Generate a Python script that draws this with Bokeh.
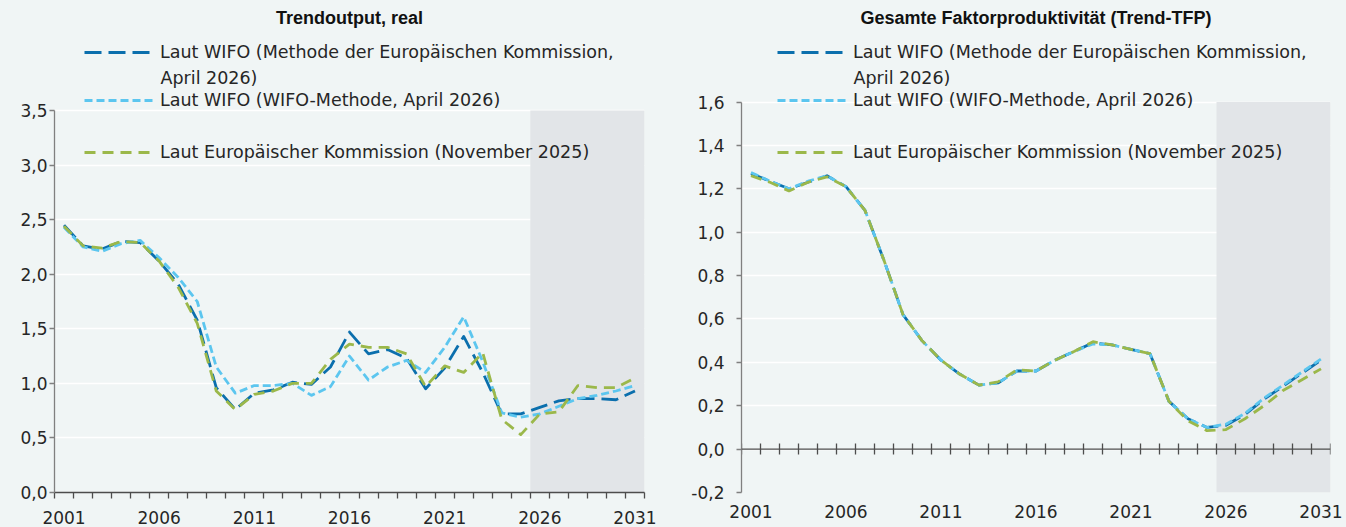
from bokeh.plotting import figure
from bokeh.layouts import row
from bokeh.models import (Range1d, FixedTicker, CustomJSTickFormatter, Legend,
                          LegendItem, Label, Span)
from bokeh.embed import file_html
from bokeh.resources import INLINE

# ---------------- data ----------------
YEARS = list(range(2001, 2032))
FORECAST_START = 2026
X_LABEL_YEARS = [2001, 2006, 2011, 2016, 2021, 2026, 2031]

TITLE_LEFT = "Trendoutput, real"
TITLE_RIGHT = "Gesamte Faktorproduktivität (Trend-TFP)"

LABEL_EK_METHOD = "Laut WIFO (Methode der Europäischen Kommission,"
LABEL_EK_METHOD_2 = "April 2026)"
LABEL_WIFO_METHOD = "Laut WIFO (WIFO-Methode, April 2026)"
LABEL_EK = "Laut Europäischer Kommission (November 2025)"

# Trendoutput, real (Veränderung in %)
OUT_WIFO_EK = [2.45, 2.26, 2.23, 2.30, 2.29, 2.12, 1.91, 1.58, 0.96, 0.76,
               0.91, 0.94, 1.01, 0.99, 1.15, 1.47, 1.27, 1.31, 1.23, 0.95,
               1.14, 1.43, 1.10, 0.72, 0.72, 0.78, 0.84, 0.86, 0.86, 0.85, 0.93]
OUT_WIFO_WIFO = [2.43, 2.25, 2.21, 2.28, 2.31, 2.15, 1.97, 1.75, 1.15, 0.91,
                 0.98, 0.98, 1.00, 0.89, 0.97, 1.25, 1.03, 1.15, 1.21, 1.10,
                 1.33, 1.61, 1.20, 0.73, 0.69, 0.72, 0.79, 0.86, 0.89, 0.93, 0.98]
OUT_EK = [2.44, 2.26, 2.24, 2.30, 2.29, 2.12, 1.88, 1.55, 0.93, 0.76,
          0.90, 0.93, 1.00, 1.00, 1.22, 1.36, 1.33, 1.33, 1.27, 0.97,
          1.16, 1.10, 1.28, 0.67, 0.53, 0.72, 0.74, 0.98, 0.96, 0.96, 1.05]

# Gesamte Faktorproduktivität (Trend-TFP)
TFP_WIFO_EK = [1.27, 1.235, 1.20, 1.23, 1.26, 1.21, 1.10, 0.87, 0.62, 0.50,
               0.41, 0.345, 0.295, 0.305, 0.36, 0.36, 0.41, 0.45, 0.49, 0.48,
               0.46, 0.44, 0.22, 0.14, 0.10, 0.11, 0.16, 0.23, 0.29, 0.35, 0.41]
TFP_WIFO_WIFO = [1.275, 1.235, 1.20, 1.235, 1.26, 1.21, 1.10, 0.87, 0.62, 0.50,
                 0.41, 0.345, 0.295, 0.305, 0.36, 0.36, 0.41, 0.45, 0.485, 0.48,
                 0.46, 0.44, 0.22, 0.14, 0.10, 0.115, 0.165, 0.235, 0.295, 0.355, 0.415]
TFP_EK = [1.26, 1.23, 1.19, 1.23, 1.255, 1.21, 1.10, 0.87, 0.62, 0.50,
          0.41, 0.345, 0.295, 0.31, 0.365, 0.36, 0.41, 0.45, 0.495, 0.48,
          0.46, 0.44, 0.22, 0.13, 0.085, 0.09, 0.14, 0.20, 0.27, 0.32, 0.37]

Y_TICKS_LEFT = [0.0, 0.5, 1.0, 1.5, 2.0, 2.5, 3.0, 3.5]
Y_TICKS_RIGHT = [-0.2, 0.0, 0.2, 0.4, 0.6, 0.8, 1.0, 1.2, 1.4, 1.6]

# ---------------- style ----------------
BG = "#f0f5f5"
SHADE = "#e2e5e8"
DARK_BLUE = "#0b6fad"
LIGHT_BLUE = "#5cc6ef"
GREEN = "#9bb84a"
Y_AXIS_COL = "#808080"
X_AXIS_COL = "#4d4d4d"
TEXT_COL = "#262626"
FONT = "DejaVu Sans"
TITLE_FONT = "Liberation Sans"

FIG_H = 527
BOTTOM = 35           # px below the frame
FRAME_H = FIG_H - BOTTOM


def make_chart(width, left, right, y_min, y_max, top_px, y_ticks, title,
               series, zero_line, y_standoff, legend_x):
    frame_w = width - left - right
    ppu = (FRAME_H - top_px) / (y_max - y_min)
    y_end = y_min + FRAME_H / ppu
    x0 = YEARS[0] - 0.5
    x1 = YEARS[-1] + 0.5
    p = figure(width=width, height=FIG_H,
               x_range=Range1d(x0, x1), y_range=Range1d(y_min, y_end),
               output_backend="svg", toolbar_location=None, tools="",
               min_border_left=left, min_border_right=right,
               min_border_top=0, min_border_bottom=BOTTOM,
               background_fill_color=BG, border_fill_color=BG,
               outline_line_color=None)

    # grid
    p.xgrid.visible = False
    p.ygrid.ticker = FixedTicker(ticks=y_ticks)
    p.ygrid.grid_line_color = "white"
    p.ygrid.grid_line_width = 1.3

    # y axis
    ya = p.yaxis[0]
    ya.ticker = FixedTicker(ticks=y_ticks)
    ya.bounds = (y_min, y_max)
    ya.formatter = CustomJSTickFormatter(code="return tick.toFixed(1).replace('.', ',');")
    ya.axis_line_color = Y_AXIS_COL
    ya.axis_line_width = 1.3
    ya.major_tick_line_color = Y_AXIS_COL
    ya.major_tick_line_width = 1.3
    ya.major_tick_out = 5
    ya.major_tick_in = 0
    ya.minor_tick_line_color = None
    ya.major_label_standoff = y_standoff
    ya.major_label_text_font = FONT
    ya.major_label_text_font_size = "17px"
    ya.major_label_text_color = TEXT_COL

    # x axis
    bounds = [y - 0.5 for y in YEARS] + [YEARS[-1] + 0.5]
    xa = p.xaxis[0]
    xa.ticker = FixedTicker(ticks=X_LABEL_YEARS, minor_ticks=bounds)
    xa.formatter = CustomJSTickFormatter(code="return tick.toFixed(0);")
    xa.major_tick_out = 0
    xa.major_tick_in = 0
    xa.major_label_standoff = 12
    xa.major_label_text_font = FONT
    xa.major_label_text_font_size = "17px"
    xa.major_label_text_color = TEXT_COL
    if zero_line:
        xa.axis_line_color = None
        xa.major_tick_line_color = None
        xa.minor_tick_line_color = None
        xa.minor_tick_out = 0
        xa.minor_tick_in = 0
    else:
        xa.axis_line_color = X_AXIS_COL
        xa.axis_line_width = 1.3
        xa.minor_tick_line_color = X_AXIS_COL
        xa.minor_tick_line_width = 1.3
        xa.minor_tick_out = 6
        xa.minor_tick_in = 0

    # forecast shading
    p.quad(left=[FORECAST_START - 0.5], right=[x1], bottom=[y_min], top=[y_max],
           fill_color=SHADE, line_color=None)

    if zero_line:
        d = 5.5 / ppu
        p.add_layout(Span(location=0, dimension="width", line_color=X_AXIS_COL,
                          line_width=1.3))
        p.segment(x0=bounds, x1=bounds, y0=[-d] * len(bounds), y1=[d] * len(bounds),
                  line_color=X_AXIS_COL, line_width=1.3)

    styles = [(DARK_BLUE, "17 7"), (LIGHT_BLUE, "8 4"), (GREEN, "11 7")]
    renderers = []
    for vals, (col, dash) in zip(series, styles):
        r = p.line(YEARS, vals, line_color=col, line_width=2.8, line_dash=dash,
                   line_join="round")
        renderers.append(r)

    # legend (one entry per legend box, positioned like the original)
    labels = [LABEL_EK_METHOD, LABEL_WIFO_METHOD, LABEL_EK]
    centers = [52, 100, 152]
    for r, lab, yc in zip(renderers, labels, centers):
        leg = Legend(items=[LegendItem(label=lab, renderers=[r])],
                     location=(legend_x, FRAME_H - (yc + 11)),
                     padding=0, margin=0, spacing=0,
                     border_line_color=None, background_fill_alpha=0,
                     glyph_width=69, glyph_height=22, label_height=22,
                     label_standoff=7, label_text_font=FONT,
                     label_text_font_size="17.5px", label_text_color=TEXT_COL)
        p.add_layout(leg)
    p.add_layout(Label(x=legend_x + 76, y=FRAME_H - 77,
                       x_units="screen", y_units="screen",
                       text=LABEL_EK_METHOD_2, text_align="left",
                       text_baseline="middle", text_font=FONT,
                       text_font_size="17.5px", text_color=TEXT_COL))
    # title
    p.add_layout(Label(x=frame_w / 2, y=FRAME_H - 17,
                       x_units="screen", y_units="screen",
                       text=title, text_align="center", text_baseline="middle",
                       text_font=TITLE_FONT, text_font_style="bold",
                       text_font_size="18px", text_color="#111111"))
    return p


p_left = make_chart(688, 54, 44, 0.0, 3.5, 110, Y_TICKS_LEFT, TITLE_LEFT,
                    [OUT_WIFO_EK, OUT_WIFO_WIFO, OUT_EK], False, 2, 30)
p_right = make_chart(658, 53, 16, -0.2, 1.6, 101.5, Y_TICKS_RIGHT, TITLE_RIGHT,
                     [TFP_WIFO_EK, TFP_WIFO_WIFO, TFP_EK], True, 12, 36)

layout = row(p_left, p_right, styles={"background-color": BG})
open("out.html", "w").write(file_html(layout, INLINE))
